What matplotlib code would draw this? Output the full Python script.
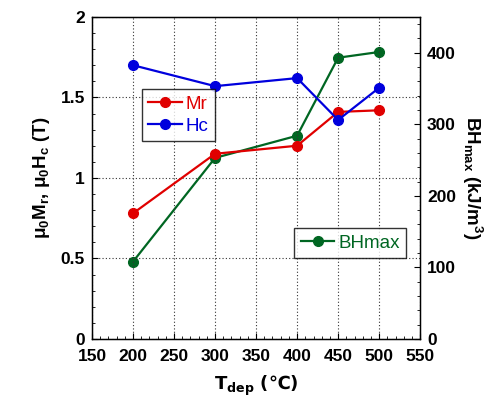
import matplotlib
matplotlib.use('Agg')
import matplotlib.pyplot as plt
from matplotlib.ticker import MultipleLocator

plt.rcParams['font.family'] = ['Liberation Sans', 'DejaVu Sans']
plt.rcParams['mathtext.fontset'] = 'custom'
plt.rcParams['mathtext.rm'] = 'Liberation Sans:bold'
plt.rcParams['mathtext.it'] = 'Liberation Sans:bold'
plt.rcParams['mathtext.bf'] = 'Liberation Sans:bold'
plt.rcParams['mathtext.default'] = 'regular'

# data
temps = [200, 300, 400, 450, 500]
mr = [0.78, 1.15, 1.20, 1.41, 1.42]
hc = [1.70, 1.57, 1.62, 1.36, 1.56]
bhmax = [108, 253, 284, 393, 401]

red = '#e00000'
blue = '#0000dd'
green = '#006622'

fig = plt.figure(figsize=(4.92, 4.03), dpi=100)
ax = fig.add_axes([0.187, 0.159, 0.667, 0.799])
ax2 = ax.twinx()

l1, = ax.plot(temps, mr, '-o', color=red, lw=1.6, ms=7, label='Mr')
l2, = ax.plot(temps, hc, '-o', color=blue, lw=1.6, ms=7, label='Hc')
l3, = ax2.plot(temps, bhmax, '-o', color=green, lw=1.6, ms=7, label='BHmax')

ax.set_xlim(150, 550)
ax.set_ylim(0, 2)
ax2.set_ylim(0, 450)
ax.set_xticks(range(150, 551, 50))
ax.set_yticks([0, 0.5, 1, 1.5, 2])
ax.set_yticklabels(['0', '0.5', '1', '1.5', '2'])
ax2.set_yticks([0, 100, 200, 300, 400])
ax.xaxis.set_minor_locator(MultipleLocator(10))
ax.yaxis.set_minor_locator(MultipleLocator(0.1))
ax2.yaxis.set_minor_locator(MultipleLocator(20))

ax.grid(True, which='major', color='#333333', linestyle=(0, (1, 2)), linewidth=0.8)
for a in (ax, ax2):
    a.tick_params(which='both', direction='in', labelsize=12.5)
    a.tick_params(which='major', length=4)
    a.tick_params(which='minor', length=2)
    for lab in a.get_xticklabels() + a.get_yticklabels():
        lab.set_fontweight('bold')
ax.tick_params(axis='x', pad=7)
ax.tick_params(axis='y', pad=5)
ax2.tick_params(axis='y', pad=5)
for s in ax.spines.values():
    s.set_linewidth(1.0)

ax.set_xlabel('T$_{dep}$ (\u2103)', fontsize=13, fontweight='bold', labelpad=7,
              family='DejaVu Sans')
ax.set_ylabel('\u03bc$_0$M$_r$, \u03bc$_0$H$_c$ (T)', fontsize=13.5, fontweight='bold', labelpad=6)
ax2.set_ylabel('BH$_{max}$ (kJ/m$^3$)', fontsize=13.5, fontweight='bold', rotation=270, labelpad=20)

ax2.set_zorder(ax.get_zorder() - 1)
ax.patch.set_visible(False)

leg1 = ax.legend(handles=[l1, l2], loc='upper left', bbox_to_anchor=(0.152, 0.776),
                 fontsize=13.5, frameon=True, fancybox=False, edgecolor='black',
                 handlelength=1.8, handletextpad=0.2, borderpad=0.35, labelspacing=0.25,
                 borderaxespad=0)
leg1.get_frame().set_linewidth(1.0)
for t, c in zip(leg1.get_texts(), [red, blue]):
    t.set_color(c)
ax.add_artist(leg1)

leg2 = ax.legend(handles=[l3], loc='upper left', bbox_to_anchor=(0.616, 0.345),
                 fontsize=13.5, frameon=True, fancybox=False, edgecolor='black',
                 handlelength=1.8, handletextpad=0.2, borderpad=0.35, borderaxespad=0)
leg2.get_frame().set_linewidth(1.0)
leg2.get_texts()[0].set_color(green)

fig.savefig('out.png', dpi=100)
